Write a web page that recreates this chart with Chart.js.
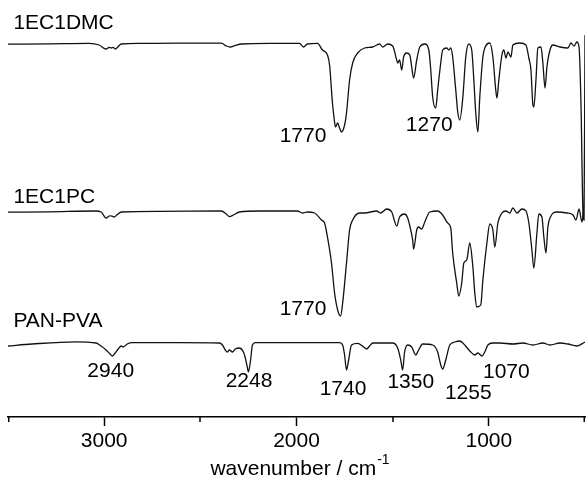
<!DOCTYPE html>
<html>
<head>
<meta charset="utf-8">
<script src="https://cdn.jsdelivr.net/npm/chart.js@4/dist/chart.umd.min.js"></script>
<style>
html,body{margin:0;padding:0;background:#fff;}
#wrap{width:586px;height:484px;position:relative;}
</style>
</head>
<body>
<div id="wrap"><canvas id="c" width="586" height="484"></canvas></div>
<script>
// ---- data (wavenumber in cm-1, offset transmittance in a.u.) ----
const dmcWn = [3500,3286,3078,3026,2990,2974,2964,2953,2943,2911,2818,2609,2391,2365,2344,2318,2286,2141,1984,1964,1943,1891,1865,1839,1828,1813,1802,1797,1786,1776,1766,1750,1740,1724,1708,1682,1646,1604,1568,1552,1526,1500,1479,1474,1464,1453,1443,1427,1411,1401,1391,1375,1359,1333,1312,1302,1292,1276,1266,1250,1240,1219,1208,1198,1188,1172,1161,1151,1135,1120,1104,1089,1078,1068,1057,1047,1031,1021,995,979,964,958,948,932,922,911,901,885,875,839,807,792,781,771,766,755,745,729,719,708,698,682,667,630,589,573,557,542,531,521,510,505,500];
const dmcT  = [93.2,93.3,93.4,93.0,92.0,92.4,92.25,92.4,92.0,93.25,93.4,93.45,93.45,92.75,92.5,92.9,93.25,93.4,93.4,92.5,93.25,93.4,91.75,90.5,88,78.5,73.75,72.5,73.5,72.25,71.25,73,76,84.25,88.5,91,92.25,92.5,93.25,92.5,93.25,92.75,89.25,88.5,89.25,86.75,90,91,90.5,87.5,84.75,89.25,92.5,93.25,91.75,86.75,80,77.25,81.75,88.5,91.75,92.25,91.75,92.25,90,81.75,76,74.25,80,90,93.25,91.75,84.25,76,71.25,80,90,92.25,93.5,90,81.75,79.75,84.25,90.5,91.75,89.75,91.25,90,93,93.5,93,89.75,86.75,78,77.5,84.25,92.25,92.5,88.5,82.25,87.5,91.75,93,92.5,92.25,93.5,92.75,93.75,92.5,78.5,50.5,49.25,95.5];

const pcWn = [3500,3286,3042,3016,2990,2974,2964,2948,2932,2911,2714,2391,2365,2349,2328,2297,2193,1995,1969,1943,1906,1870,1854,1839,1818,1802,1786,1771,1760,1740,1724,1708,1672,1646,1583,1563,1531,1505,1479,1464,1438,1422,1406,1396,1391,1375,1365,1349,1333,1307,1266,1240,1214,1198,1188,1167,1156,1141,1130,1115,1099,1083,1073,1063,1042,1031,1010,995,979,969,953,932,911,891,875,854,828,807,792,776,766,750,740,724,714,703,693,682,646,594,562,547,531,516,508];
const pcT  = [51.2,51.3,51.5,51.25,49.75,50.25,50.3,50,50.6,51.25,51.4,51.5,50.75,50.1,50.5,51.25,51.5,51.5,51,51.25,51,49.25,48.5,45,38.5,31,26.75,25.25,28.5,38.5,46.75,49.25,51,51,51.5,51,52,51.25,47.75,50,50.75,49.75,46.75,44.25,42,46.75,47.5,47,48.75,51.25,51.5,50.5,48.5,47.25,41,33.5,30.25,33.5,38.5,39.25,43.5,37.5,31,27.5,28,34.25,43.5,48.25,46.75,42.5,48.5,51,51.5,51,52.25,51,52,51.5,48.5,41.75,37.25,46,50.75,50,45,41,47.5,49.75,51.25,51,50.5,49.25,52,48.75,51.25];

const panWn = [3500,3375,3146,3042,3016,2990,2969,2958,2943,2927,2911,2901,2880,2854,2609,2401,2385,2370,2359,2349,2333,2318,2297,2276,2266,2255,2250,2240,2229,2214,1984,1776,1760,1750,1740,1729,1714,1682,1651,1635,1620,1604,1500,1474,1458,1448,1438,1422,1401,1380,1365,1344,1292,1266,1250,1240,1224,1203,1177,1151,1125,1099,1073,1057,1036,1021,1005,979,943,875,823,771,719,682,630,589,542,500];
const panT  = [17.75,18.25,18.8,18.5,17.75,16.75,15.75,15.25,16,17,17.75,17.5,18.25,18.6,18.6,18.5,18,16.75,16.25,16.75,16.25,17,17.25,16.25,14.75,12.25,11.25,13.75,18,18.6,18.6,18.6,18,15.5,11.75,14.25,18,18.4,17.5,17,17.75,18.5,18.5,17.25,14.25,11.75,16.25,18,17.5,15.5,16.75,18.25,18,16.25,13,12,14.25,18,18.75,19,18,16.5,15.5,16,15.25,16.25,18,18.5,18.5,18.25,18.5,18,18.5,18,18.5,18.25,17.75,18.75];

const seriesNames = ['1EC1DMC','1EC1PC','PAN-PVA'];
const nameWn      = [3472,3472,3472];
const nameT       = [98.5,54.9,23.9];

const peakLabels = ['1770','1270','1770','2940','2248','1740','1350','1255','1070'];
const peakWn     = [1966,1310,1966,2966,2247,1758,1406,1107,909];
const peakT      = [70.25,72.9,26.9,11.5,9,6.9,8.75,6,11.25];

const majorTicks = [3000,2000,1000];
const minorTicks = [3500,2500,1500,500];
const axisTitle = 'wavenumber / cm';
const axisTitleSup = '-1';

const FONT = '"Liberation Sans", Arial, Helvetica, sans-serif';
const FS = 21;

function pts(wn, t){ return wn.map((w,i)=>({x:w, y:t[i]})); }

const textPlugin = {
  id:'texts',
  afterDraw(chart){
    const ctx = chart.ctx, xs = chart.scales.x, ys = chart.scales.y;
    ctx.save();
    ctx.fillStyle = '#000';
    ctx.font = FS + 'px ' + FONT;
    ctx.textBaseline = 'middle';
    ctx.textAlign = 'left';
    seriesNames.forEach((s,i)=>{
      ctx.fillText(s, xs.getPixelForValue(nameWn[i]), ys.getPixelForValue(nameT[i]));
    });
    ctx.textAlign = 'center';
    peakLabels.forEach((s,i)=>{
      ctx.fillText(s, xs.getPixelForValue(peakWn[i]), ys.getPixelForValue(peakT[i]));
    });
    // minor ticks
    const yb = chart.chartArea.bottom;
    ctx.strokeStyle = '#000';
    ctx.lineWidth = 1.5;
    minorTicks.forEach(v=>{
      let px = Math.round(xs.getPixelForValue(v));
      px = Math.min(Math.max(px, chart.chartArea.left+0.75), chart.chartArea.right-0.75);
      ctx.beginPath(); ctx.moveTo(px, yb); ctx.lineTo(px, yb+5); ctx.stroke();
    });
    // axis title with superscript
    ctx.textAlign = 'left';
    ctx.textBaseline = 'alphabetic';
    ctx.font = FS + 'px ' + FONT;
    const w1 = ctx.measureText(axisTitle).width;
    ctx.font = '14px ' + FONT;
    const w2 = ctx.measureText(axisTitleSup).width;
    const cx = (xs.left + xs.right)/2 + 3;
    const x0 = cx - (w1 + w2)/2;
    const by = 475;
    ctx.font = FS + 'px ' + FONT;
    ctx.fillText(axisTitle, x0, by);
    ctx.font = '14px ' + FONT;
    ctx.fillText(axisTitleSup, x0 + w1 + 1, by - 11);
    ctx.restore();
  }
};

new Chart(document.getElementById('c'), {
  type:'line',
  data:{
    datasets:[
      {label:seriesNames[0], data:pts(dmcWn,dmcT)},
      {label:seriesNames[1], data:pts(pcWn,pcT)},
      {label:seriesNames[2], data:pts(panWn,panT)}
    ].map(d=>Object.assign(d,{borderColor:'#111',borderWidth:1.3,pointRadius:0,fill:false,cubicInterpolationMode:'monotone'}))
  },
  options:{
    responsive:false,
    animation:false,
    layout:{padding:{left:8,right:1,top:17,bottom:20}},
    plugins:{legend:{display:false},tooltip:{enabled:false}},
    scales:{
      x:{
        type:'linear', reverse:true, min:500, max:3500,
        afterBuildTicks(scale){ scale.ticks = majorTicks.map(v=>({value:v})); },
        afterFit(scale){ scale.height = 47; },
        grid:{display:true, drawOnChartArea:false, drawTicks:true, tickLength:9, tickColor:'#000', tickWidth:1.5},
        border:{display:true, color:'#000', width:1.5},
        ticks:{color:'#000', font:{family:FONT, size:FS}, padding:3, maxRotation:0, autoSkip:false,
               callback:(v)=>String(v)}
      },
      y:{type:'linear', display:false, min:0, max:100}
    }
  },
  plugins:[textPlugin]
});
</script>
</body>
</html>
